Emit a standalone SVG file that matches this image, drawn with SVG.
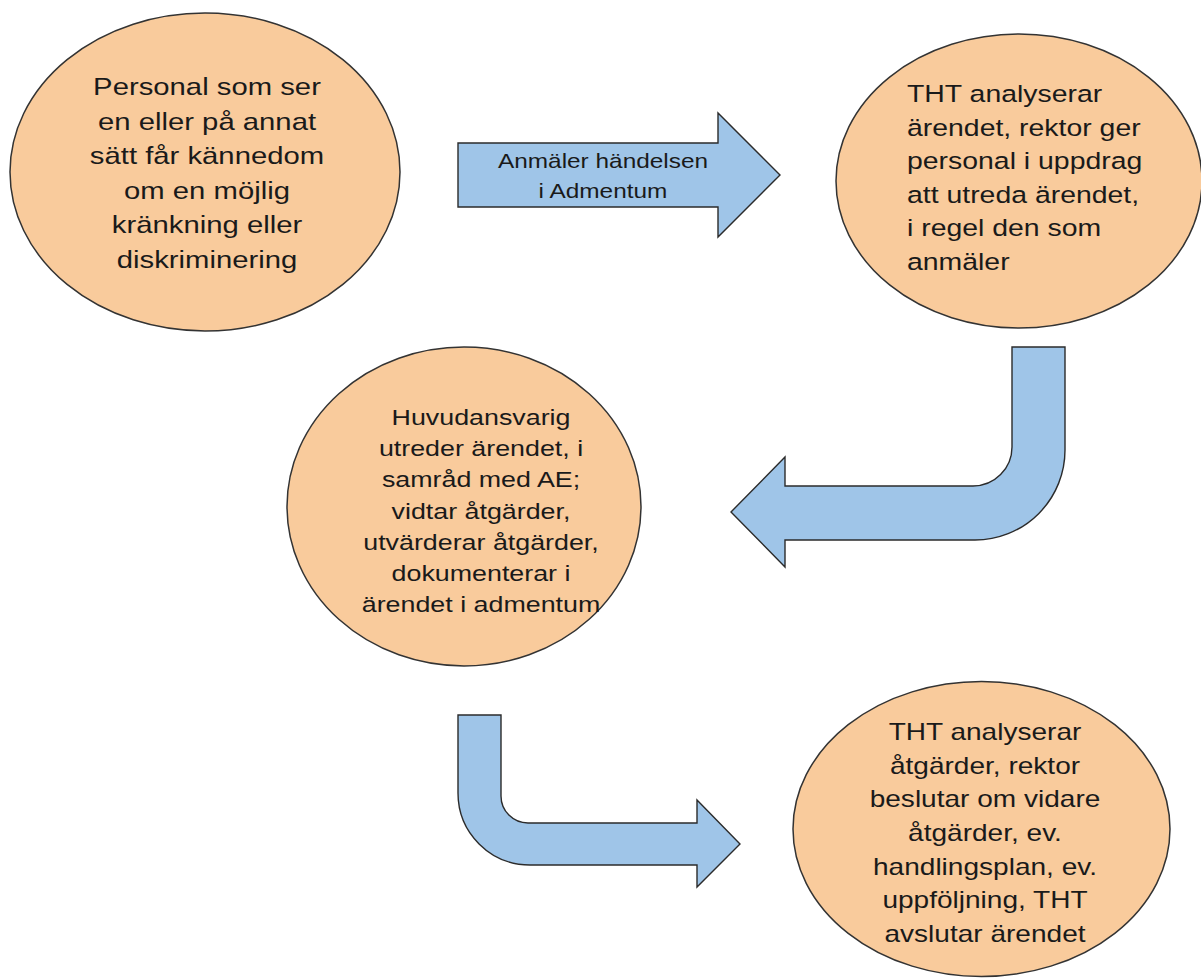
<svg xmlns="http://www.w3.org/2000/svg" width="1201" height="978" viewBox="0 0 1201 978">
<style>
.node{fill:#f9cb9c;stroke:#333333;stroke-width:1.5}
.arrow{fill:#9fc5e8;stroke:#2b2b2b;stroke-width:1.4;stroke-linejoin:miter}
.t{font-family:"Liberation Sans",Arial,sans-serif;fill:#1a1a1a}
.c{text-anchor:middle}
</style>
<rect width="1201" height="978" fill="#ffffff"/>
<g id="connectors">
<g id="arrow1">
<polygon class="arrow" points="458,143 718,143 718,113 780,175 718,237 718,207 458,207"/>
<g transform="translate(603 0) scale(1.22 1)">
<text class="t c" font-size="20" x="0" y="168">Anmäler händelsen</text>
<text class="t c" font-size="20" x="0" y="198">i Admentum</text>
</g>
</g>
<path id="arrow2" class="arrow" d="M1012 347 L1065 347 L1065 450 A90 90 0 0 1 975 540 L785 540 L785 567 L731 512 L785 457 L785 486 L973 486 A39 39 0 0 0 1012 447 Z"/>
<path id="arrow3" class="arrow" d="M458 715 L501 715 L501 796 A27 27 0 0 0 528 823 L697 823 L697 800 L740 844 L697 887 L697 865 L530 865 A72 72 0 0 1 458 793 Z"/>
</g>
<g id="node1">
<ellipse class="node" cx="205" cy="172" rx="195" ry="159"/>
<g transform="translate(207 0) scale(1.22 1)">
<text class="t c" font-size="24" x="0" y="95">Personal som ser</text>
<text class="t c" font-size="24" x="0" y="129.6">en eller på annat</text>
<text class="t c" font-size="24" x="0" y="164.2">sätt får kännedom</text>
<text class="t c" font-size="24" x="0" y="198.8">om en möjlig</text>
<text class="t c" font-size="24" x="0" y="233.4">kränkning eller</text>
<text class="t c" font-size="24" x="0" y="268">diskriminering</text>
</g>
</g>
<g id="node2">
<ellipse class="node" cx="1019" cy="181" rx="183" ry="147"/>
<g transform="translate(907 0) scale(1.22 1)">
<text class="t" font-size="23.3" x="0" y="102">THT analyserar</text>
<text class="t" font-size="23.3" x="0" y="135.6">ärendet, rektor ger</text>
<text class="t" font-size="23.3" x="0" y="169.2">personal i uppdrag</text>
<text class="t" font-size="23.3" x="0" y="202.8">att utreda ärendet,</text>
<text class="t" font-size="23.3" x="0" y="236.4">i regel den som</text>
<text class="t" font-size="23.3" x="0" y="270">anmäler</text>
</g>
</g>
<g id="node3">
<ellipse class="node" cx="464" cy="506.5" rx="177" ry="159.5"/>
<g transform="translate(481 0) scale(1.22 1)">
<text class="t c" font-size="22" x="0" y="425">Huvudansvarig</text>
<text class="t c" font-size="22" x="0" y="456.2">utreder ärendet, i</text>
<text class="t c" font-size="22" x="0" y="487.4">samråd med AE;</text>
<text class="t c" font-size="22" x="0" y="518.6">vidtar åtgärder,</text>
<text class="t c" font-size="22" x="0" y="549.8">utvärderar åtgärder,</text>
<text class="t c" font-size="22" x="0" y="581">dokumenterar i</text>
<text class="t c" font-size="22" x="0" y="612.2">ärendet i admentum</text>
</g>
</g>
<g id="node4">
<ellipse class="node" cx="981.5" cy="829" rx="188.5" ry="147.5"/>
<g transform="translate(985 0) scale(1.22 1)">
<text class="t c" font-size="23" x="0" y="740">THT analyserar</text>
<text class="t c" font-size="23" x="0" y="773.7">åtgärder, rektor</text>
<text class="t c" font-size="23" x="0" y="807.3">beslutar om vidare</text>
<text class="t c" font-size="23" x="0" y="841">åtgärder, ev.</text>
<text class="t c" font-size="23" x="0" y="874.7">handlingsplan, ev.</text>
<text class="t c" font-size="23" x="0" y="908.3">uppföljning, THT</text>
<text class="t c" font-size="23" x="0" y="942">avslutar ärendet</text>
</g>
</g>
</svg>
